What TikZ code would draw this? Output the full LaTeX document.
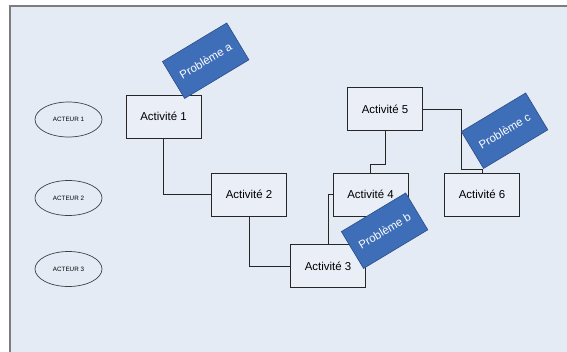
\documentclass[tikz,border=0pt]{standalone}
\usepackage{fontspec}
\setmainfont{Liberation Sans}
\usetikzlibrary{calc,shapes.geometric}
\definecolor{pagebg}{RGB}{229,235,245}
\definecolor{boxbg}{RGB}{233,238,247}
\definecolor{framegray}{RGB}{125,125,125}
\definecolor{probblue}{RGB}{62,110,184}
\definecolor{probedge}{RGB}{44,78,135}
\begin{document}
\begin{tikzpicture}[x=1bp,y=-1bp,
  activity/.style={draw=black!85, fill=boxbg, line width=0.8bp,
    minimum width=75bp, minimum height=43bp, inner sep=0pt,
    font=\fontsize{11.5}{13}\selectfont},
  actor/.style={draw=black!75, ellipse, line width=0.7bp,
    minimum width=67bp, minimum height=35bp, inner sep=0pt,
    font=\fontsize{6.3}{7}\selectfont},
  problem/.style={draw=probedge, fill=probblue, line width=0.6bp,
    minimum width=75bp, minimum height=43bp, inner sep=0pt,
    rotate=31, text=white, font=\fontsize{11.5}{13}\selectfont},
  link/.style={draw=black!85, line width=0.8bp}]
\useasboundingbox (0,0) rectangle (567,351);
\fill[white] (0,0) rectangle (567,351);
\filldraw[fill=pagebg, draw=framegray, line width=1.2bp] (10,6) rectangle (575,360);

% actors
\node[actor] (ac1) at (68.5,119.5) {ACTEUR 1};
\node[actor] (ac2) at (68.5,198) {ACTEUR 2};
\node[actor] (ac3) at (68.5,269) {ACTEUR 3};

% activities
\node[activity] (a1) at (163.5,116.5) {Activité 1};
\node[activity] (a2) at (249,194.5) {Activité 2};
\node[activity] (a3) at (328,266) {Activité 3};
\node[activity] (a4) at (370.5,194.5) {Activité 4};
\node[activity] (a5) at (385,109) {Activité 5};
\node[activity] (a6) at (482,194.5) {Activité 6};

% connectors
\draw[link] (a1.south) |- (a2.west);
\draw[link] (a2.south) |- (a3.west);
\draw[link] (a3.north) |- (a4.west);
\draw[link] (a5.south) -- ++(0,33) -| (a4.north);
\draw[link] (a5.east) -| ++(38,60) -| (a6.north);

% problems
\node[problem] (pa) at (205.7,60.7) {Problème a};
\node[problem] (pb) at (384.6,230.7) {Problème b};
\node[problem] (pc) at (504.6,130.7) {Problème c};
\end{tikzpicture}
\end{document}
